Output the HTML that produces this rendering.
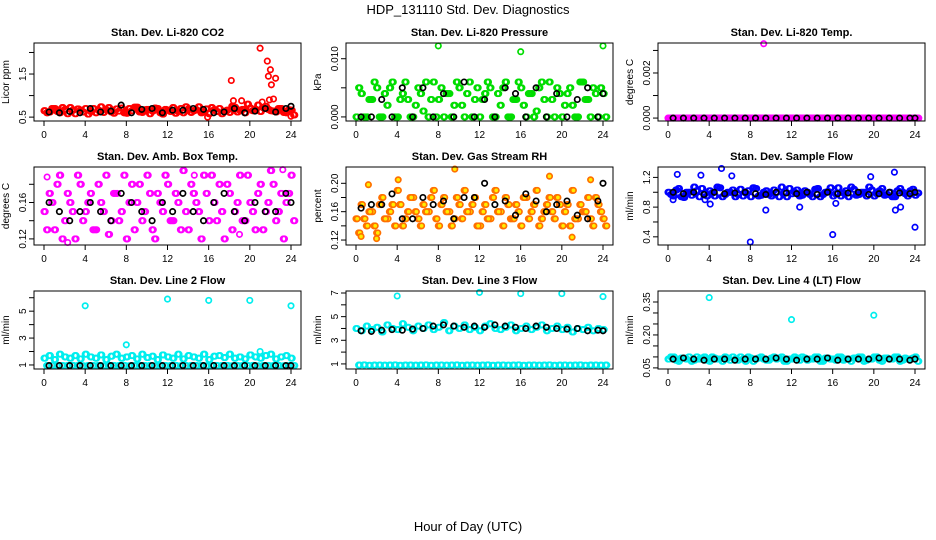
<!DOCTYPE html>
<html><head><meta charset="utf-8"><style>
body{margin:0;background:#fff}
svg{display:block;font-family:"Liberation Sans",Arial,sans-serif}
</style></head><body>
<svg id="chart" width="936" height="540" viewBox="0 0 936 540" xmlns="http://www.w3.org/2000/svg">
<rect width="936" height="540" fill="#fff"/>
<text x="468" y="14" text-anchor="middle" font-size="13">HDP_131110  Std. Dev. Diagnostics</text>
<text x="468" y="531" text-anchor="middle" font-size="13">Hour of Day (UTC)</text>
<g id="panels"></g>
</svg>
<script>
const xTicks = [0,4,8,12,16,20,24];

const co2A = [0.65,0.62,0.7,0.6,0.68,0.72,0.58,0.66,0.7,0.63,0.6,0.74,0.67,0.62,0.69,0.71,0.59,0.65,0.73,0.61,0.68,0.64,0.7,0.57,0.66,0.72,0.63,0.6,0.69,0.65,0.74,0.62,0.58,0.67,0.7,0.64,0.61,0.73,0.66,0.6,0.71,0.68,0.63,0.75,0.65,0.62,0.7,0.6,0.66];
const co2B = [0.6,0.7,0.63,0.72,0.58,0.66,0.69,0.62,0.57,0.7,0.66,0.61,0.72,0.59,0.64,0.6,0.7,0.73,0.62,0.67,0.58,0.71,0.6,0.68,0.63,0.59,0.7,0.74,0.61,0.67,0.6,0.69,0.72,0.63,0.58,0.66,0.75,0.62,0.68,0.8,0.65,0.78,0.72,0.68,0.64,0.7,0.61,0.67,0.55];
const co2Out = [[18.2,1.35],[18.4,0.88],[19.2,0.88],[21,2.1],[21.7,1.8],[21.8,1.45],[22,1.6],[22.1,1.25],[22.5,1.4],[22.3,0.92],[21.9,0.9],[21.2,0.85],[24,0.52],[15.9,0.5]];
const co2K = [0.62,0.6,0.63,0.6,0.7,0.62,0.64,0.78,0.6,0.68,0.7,0.6,0.66,0.66,0.7,0.68,0.6,0.62,0.7,0.6,0.64,0.7,0.62,0.7,0.75];

const prA = [0,0.004,0,0.003,0.005,0,0.002,0.006,0,0.004,0.003,0,0.005,0.001,0,0.006,0.003,0,0.004,0.002,0.005,0,0.006,0.003,0,0.004,0.005,0,0.002,0.006,0,0.003,0.005,0,0.004,0.001,0.006,0,0.003,0.005,0,0.004,0.002,0,0.006,0.003,0.005,0,0.004];
const prB = [0.005,0,0.003,0.006,0,0.004,0.005,0,0.003,0.006,0,0.002,0.004,0.006,0.003,0,0.005,0.004,0,0.006,0.002,0.004,0,0.005,0.003,0.006,0,0.004,0.005,0,0.003,0.006,0.002,0.004,0,0.005,0.003,0.006,0,0.004,0.002,0.005,0,0.006,0.003,0,0.004,0.005,0];
const prOut = [[8,0.0122],[16,0.0112],[24,0.0122]];
const prK = [0,0,0.003,0,0.005,0,0.005,0,0.004,0,0.006,0,0.003,0,0.005,0.004,0,0.005,0,0.004,0,0.003,0.005,0,0.004];

const tpA = [0,0,0,0,0,0,0,0,0,0,0,0,0,0,0,0,0,0,0,0,0,0,0,0,0,0,0,0,0,0,0,0,0,0,0,0,0,0,0,0,0,0,0,0,0,0,0,0,0];
const tpB = [0,0,0,0,0,0,0,0,0,0,0,0,0,0,0,0,0,0,0,0,0,0,0,0,0,0,0,0,0,0,0,0,0,0,0,0,0,0,0,0,0,0,0,0,0,0,0,0,0];
const tpOut = [[9.3,0.0033]];
const tpK = [0,0,0,0,0,0,0,0,0,0,0,0,0,0,0,0,0,0,0,0,0,0,0,0,0];

const btA = [0.15,0.17,0.13,0.19,0.14,0.16,0.12,0.18,0.15,0.17,0.13,0.16,0.19,0.14,0.17,0.15,0.12,0.18,0.16,0.14,0.19,0.13,0.17,0.15,0.18,0.14,0.16,0.195,0.13,0.17,0.15,0.19,0.14,0.16,0.18,0.12,0.17,0.15,0.19,0.14,0.16,0.13,0.18,0.15,0.195,0.14,0.17,0.16,0.19];
const btB = [0.13,0.16,0.18,0.12,0.17,0.15,0.19,0.14,0.16,0.13,0.18,0.15,0.125,0.17,0.14,0.19,0.16,0.13,0.18,0.15,0.17,0.12,0.16,0.19,0.14,0.17,0.13,0.15,0.18,0.16,0.12,0.17,0.19,0.14,0.15,0.18,0.13,0.16,0.14,0.19,0.15,0.17,0.13,0.16,0.18,0.15,0.12,0.17,0.14];
const btOut = [[0.3,0.188],[1.6,0.19],[2.3,0.116],[14.6,0.19],[19,0.125],[23.2,0.196]];
const btK = [0.16,0.15,0.14,0.15,0.16,0.15,0.14,0.17,0.16,0.15,0.14,0.16,0.15,0.17,0.15,0.14,0.16,0.17,0.15,0.14,0.16,0.15,0.15,0.17,0.16];

const rhA = [0.15,0.17,0.14,0.16,0.13,0.18,0.15,0.17,0.19,0.14,0.16,0.18,0.15,0.17,0.16,0.19,0.14,0.18,0.16,0.15,0.17,0.19,0.16,0.18,0.14,0.17,0.15,0.19,0.16,0.18,0.15,0.17,0.14,0.18,0.16,0.19,0.15,0.17,0.16,0.18,0.14,0.17,0.19,0.15,0.16,0.18,0.14,0.17,0.15];
const rhB = [0.13,0.15,0.16,0.14,0.17,0.15,0.16,0.14,0.17,0.15,0.18,0.16,0.14,0.16,0.18,0.15,0.17,0.16,0.14,0.18,0.15,0.16,0.17,0.14,0.16,0.15,0.18,0.16,0.14,0.17,0.15,0.16,0.18,0.15,0.17,0.14,0.16,0.18,0.15,0.17,0.16,0.14,0.15,0.17,0.16,0.15,0.18,0.16,0.14];
const rhOut = [[0.5,0.125],[1.2,0.198],[2,0.122],[4.1,0.205],[9.6,0.22],[18.8,0.21],[21,0.124],[22.8,0.205]];
const rhK = [0.165,0.17,0.17,0.185,0.15,0.15,0.18,0.17,0.175,0.15,0.18,0.18,0.2,0.17,0.175,0.155,0.185,0.175,0.16,0.17,0.175,0.155,0.15,0.175,0.2];

const sfA = [1.0,0.95,1.05,0.93,1.0,1.07,0.94,0.98,1.02,0.95,1.06,0.97,1.0,0.94,1.04,0.99,0.94,1.05,0.96,1.02,0.95,1.0,1.07,0.94,0.98,1.03,0.96,1.0,0.94,1.05,0.97,1.01,0.95,1.06,0.99,0.94,1.04,0.97,1.0,1.07,0.95,1.02,0.96,1.0,0.94,1.05,0.98,1.02,0.96];
const sfB = [0.97,1.03,0.94,1.0,0.96,1.02,1.05,0.95,0.99,1.07,0.94,1.0,1.03,0.97,0.95,1.02,1.06,0.95,1.0,0.97,1.03,0.94,0.99,1.05,1.0,0.95,1.02,0.97,1.04,0.94,1.0,1.06,0.98,0.95,1.02,1.07,0.96,1.0,0.95,1.03,0.98,1.05,0.97,0.94,1.02,1.0,0.95,1.04,0.99];
const sfOut = [[8,0.33],[16,0.43],[24,0.53],[0.9,1.24],[3.2,1.23],[5.2,1.32],[6.2,1.22],[22,1.27],[19.7,1.21],[4.1,0.84],[9.5,0.76],[12.8,0.8],[16.3,0.85],[22.1,0.76],[22.6,0.8],[0.5,0.9],[3.6,0.9]];
const sfK = [1.0,0.98,1.0,0.97,1.0,0.98,0.99,1.0,0.98,0.97,1.0,0.99,0.98,1.0,0.97,1.0,0.98,0.99,1.0,0.97,0.98,1.0,0.99,0.98,1.0];

const l2A = [1.5,1.7,1.4,1.8,1.6,1.5,1.7,1.45,1.8,1.6,1.5,1.75,1.4,1.65,1.8,1.5,1.6,1.7,1.45,1.8,1.55,1.65,1.4,1.75,1.6,1.5,1.8,1.45,1.7,1.6,1.5,1.8,1.4,1.65,1.7,1.55,1.8,1.5,1.6,1.45,1.75,1.6,1.5,1.7,1.8,1.45,1.6,1.7,1.5];
const l2B = [0.95,0.97,0.94,0.96,0.95,0.97,0.95,0.94,0.96,0.95,0.97,0.94,0.95,0.96,0.95,0.97,0.94,0.95,0.96,0.95,0.97,0.94,0.95,0.96,0.95,0.97,0.94,0.95,0.96,0.95,0.97,0.94,0.95,0.96,0.95,0.97,0.94,0.95,0.96,0.95,0.97,0.94,0.95,0.96,0.95,0.97,0.94,0.95,0.96];
const l2Out = [[4,5.4],[12,5.9],[16,5.8],[20,5.8],[24,5.4],[8,2.5],[21,2.0]];
const l2K = [0.95,0.96,0.95,0.95,0.96,0.95,0.95,0.96,0.95,0.95,0.96,0.95,0.95,0.96,0.95,0.95,0.96,0.95,0.95,0.96,0.95,0.95,0.96,0.95,0.95];

const l3A = [4.0,3.8,4.2,3.9,4.1,3.7,4.3,4.0,3.9,4.4,4.1,3.8,4.2,4.0,4.3,3.9,4.1,4.5,3.8,4.2,4.0,4.3,3.9,4.1,3.8,4.2,4.4,4.0,3.9,4.1,4.3,3.8,4.0,4.2,3.9,4.1,4.3,3.8,4.0,4.2,3.9,4.1,3.7,4.0,3.9,4.1,3.8,4.0,3.9];
const l3B = [0.9,0.92,0.88,0.9,0.91,0.89,0.9,0.92,0.88,0.9,0.91,0.89,0.9,0.92,0.88,0.9,0.91,0.89,0.9,0.92,0.88,0.9,0.91,0.89,0.9,0.92,0.88,0.9,0.91,0.89,0.9,0.92,0.88,0.9,0.91,0.89,0.9,0.92,0.88,0.9,0.91,0.89,0.9,0.92,0.88,0.9,0.91,0.89,0.9];
const l3Out = [[4,6.75],[12,7.05],[16,6.95],[20,6.95],[24,6.7]];
const l3K = [3.8,3.75,3.85,3.9,3.85,3.95,4.0,4.2,4.3,4.2,4.1,4.2,4.1,4.3,4.2,4.1,4.0,4.2,4.1,4.0,3.95,4.0,3.8,3.85,3.8];

const l4A = [0.09,0.1,0.08,0.095,0.1,0.085,0.09,0.1,0.08,0.095,0.09,0.1,0.085,0.09,0.1,0.08,0.095,0.09,0.1,0.085,0.095,0.09,0.1,0.08,0.09,0.095,0.1,0.085,0.09,0.1,0.08,0.095,0.09,0.1,0.085,0.09,0.095,0.1,0.08,0.09,0.1,0.085,0.095,0.09,0.1,0.08,0.095,0.09,0.1];
const l4B = [0.1,0.085,0.095,0.09,0.08,0.1,0.095,0.085,0.1,0.09,0.08,0.095,0.1,0.085,0.09,0.1,0.08,0.095,0.09,0.085,0.1,0.095,0.08,0.09,0.1,0.085,0.095,0.09,0.1,0.08,0.095,0.09,0.085,0.1,0.09,0.08,0.095,0.1,0.085,0.09,0.1,0.08,0.095,0.09,0.1,0.085,0.09,0.095,0.08];
const l4Out = [[4,0.37],[12,0.27],[20,0.29]];
const l4K = [0.09,0.095,0.09,0.085,0.09,0.09,0.085,0.09,0.09,0.09,0.095,0.09,0.085,0.09,0.09,0.095,0.085,0.09,0.09,0.09,0.095,0.09,0.09,0.085,0.09];

const panelTitles = ["Stan. Dev. Li-820 CO2","Stan. Dev. Li-820 Pressure","Stan. Dev. Li-820 Temp.","Stan. Dev. Amb. Box Temp.","Stan. Dev. Gas Stream RH","Stan. Dev. Sample Flow","Stan. Dev. Line 2 Flow","Stan. Dev. Line 3 Flow","Stan. Dev. Line 4 (LT) Flow"];
const yLabels = ["Licor ppm","kPa","degrees C","degrees C","percent","ml/min","ml/min","ml/min","ml/min"];
const yDomains = [[0.41,2.22],[-0.0007,0.0127],[-0.00013,0.00333],[0.1133,0.199],[0.113,0.223],[0.29,1.34],[0.7,6.5],[0.57,7.17],[0.045,0.40]];
const yTicks = [[0.5,1,1.5,2],[0,0.005,0.01],[0,0.001,0.002,0.003],[0.12,0.14,0.16,0.18],[0.12,0.14,0.16,0.18,0.2],[0.4,0.6,0.8,1.0,1.2],[1,2,3,4,5,6],[1,2,3,4,5,6,7],[0.05,0.1,0.15,0.2,0.25,0.3,0.35]];
const yTickLabels = [["0.5","","1.5",""],["0.000","","0.010"],["0.000","","0.002",""],["0.12","","0.16",""],["0.12","","0.16","","0.20"],["0.4","","0.8","","1.2"],["1","","3","","5",""],["1","","3","","5","","7"],["0.05","","","0.20","","","0.35"]];
const seriesA = [co2A,prA,tpA,btA,rhA,sfA,l2A,l3A,l4A];
const seriesB = [co2B,prB,tpB,btB,rhB,sfB,l2B,l3B,l4B];
const seriesOut = [co2Out,prOut,tpOut,btOut,rhOut,sfOut,l2Out,l3Out,l4Out];
const seriesK = [co2K,prK,tpK,btK,rhK,sfK,l2K,l3K,l4K];
const colors = ["#ff0000","#00dd00","#ff00ff","#ff00ff","#ff7000","#0000ff","#00eeee","#00eeee","#00eeee"];

const NS = "http://www.w3.org/2000/svg";
const root = document.getElementById("panels");
function mk(tag, attrs, parent){
  const e = document.createElementNS(NS, tag);
  for (const k in attrs) e.setAttribute(k, attrs[k]);
  parent.appendChild(e);
  return e;
}
const colLeft = [34,346,658], rowTop = [43,167,291], W = 267, H = 78;

for (let p = 0; p < 9; p++) {
  const L = colLeft[p % 3], T = rowTop[Math.floor(p / 3)];
  const g = mk("g", {}, root);
  
  
  const xs = h => L + 10 + h / 24 * (W - 20);
  const [y0, y1] = yDomains[p];
  const ys = v => T + H - (v - y0) / (y1 - y0) * H;

  const t = mk("text", {x: L + W / 2, y: T - 7, "text-anchor": "middle", "font-size": 11, "font-weight": "bold"}, g);
  t.textContent = panelTitles[p];
  
  

  const yl = mk("text", {x: 0, y: 0, "text-anchor": "middle", "font-size": 10, transform: `translate(${L - 25},${T + H / 2}) rotate(-90)`}, g);
  yl.textContent = yLabels[p];
  
  

  const cl = colors[p];
  const isRH = p === 4;
  function dot(x, y, stroke, name){
    const c = mk("circle", {cx: xs(x).toFixed(1), cy: ys(y).toFixed(1), r: 2.7, fill: isRH && stroke !== "#000" ? "#ffee00" : "none", stroke: stroke, "stroke-width": 1.7}, g);
    
    
  }
  seriesA[p].forEach((v, i) => { dot(i * 0.5, v, cl, 'sd-point'); dot(i * 0.5 + 0.12, v, cl, 'sd-point'); });
  seriesB[p].forEach((v, i) => { dot(i * 0.5 + 0.25, v, cl, 'sd-point'); dot(i * 0.5 + 0.37, v, cl, 'sd-point'); });
  seriesOut[p].forEach(d => dot(d[0], d[1], cl, 'outlier-point'));
  seriesK[p].forEach((v, i) => dot(i === 24 ? 24 : i + 0.5, v, "#000", 'hourly-point'));

  const box = mk("rect", {x: L, y: T, width: W, height: H, fill: "none", stroke: "#000", "stroke-width": 1}, g);
  
  

  xTicks.forEach(h => {
    mk("line", {x1: xs(h), x2: xs(h), y1: T + H, y2: T + H + 5, stroke: "#000"}, g);
    const tl = mk("text", {x: xs(h), y: T + H + 17, "text-anchor": "middle", "font-size": 10}, g);
    tl.textContent = h;
    
    
  });
  mk("line", {x1: xs(0), x2: xs(24), y1: T + H, y2: T + H, stroke: "#000"}, g);
  const yt = yTicks[p];
  yt.forEach((v, i) => {
    mk("line", {x1: L - 5, x2: L, y1: ys(v), y2: ys(v), stroke: "#000"}, g);
    const lab = yTickLabels[p][i];
    if (lab) {
      const tl = mk("text", {x: 0, y: 0, "text-anchor": "middle", "font-size": 10, transform: `translate(${L - 8},${ys(v)}) rotate(-90)`}, g);
      tl.textContent = lab;
      
      
    }
  });
  mk("line", {x1: L, x2: L, y1: ys(yt[0]), y2: ys(yt[yt.length - 1]), stroke: "#000"}, g);
}
</script>
</body></html>
